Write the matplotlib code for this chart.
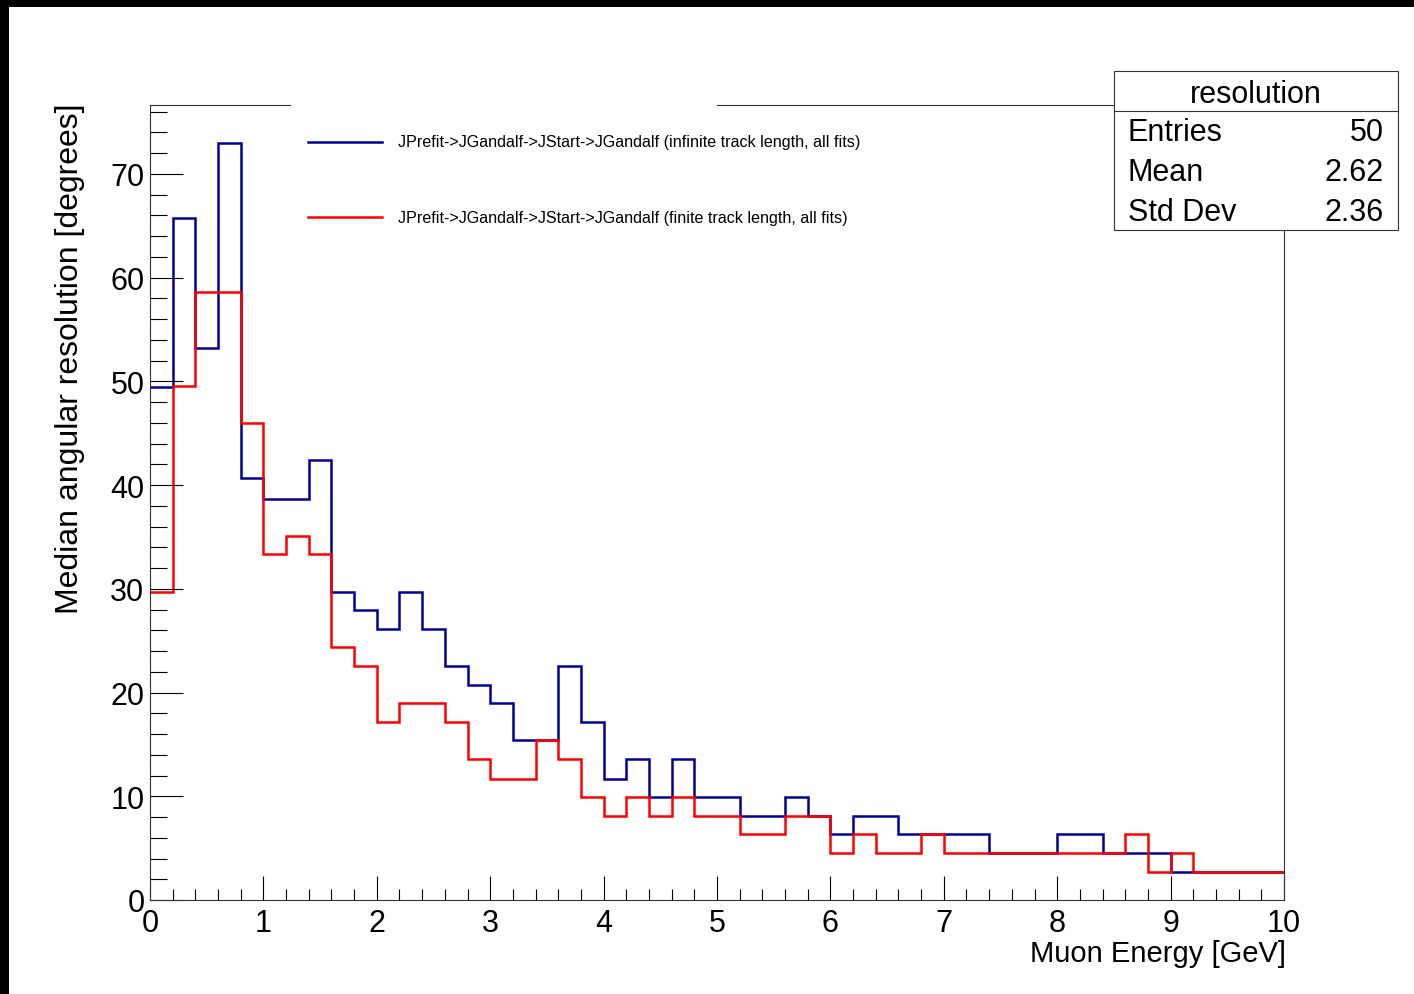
import numpy as np
import matplotlib
matplotlib.use("Agg")
import matplotlib.pyplot as plt
from matplotlib.patches import Rectangle
from matplotlib.lines import Line2D

plt.rcParams['font.family'] = ['Liberation Sans', 'DejaVu Sans']

# histogramme : 50 bins entre 0 et 10 GeV
n_bins = 50
e_min, e_max = 0.0, 10.0

# median angular resolution (degrees) per bin
infinite_res = [49.5, 65.8, 53.2, 73.0, 40.7, 38.7, 38.7, 42.4, 29.7, 28.0,
                26.1, 29.7, 26.1, 22.6, 20.7, 19.0, 15.4, 15.4, 22.6, 17.2,
                11.7, 13.6, 9.95, 13.6, 9.95, 9.95, 8.1, 8.1, 9.95, 8.1,
                6.35, 8.1, 8.1, 6.35, 6.35, 6.35, 6.35, 4.57, 4.57, 4.57,
                6.35, 6.35, 4.57, 4.57, 4.57, 2.73, 2.73, 2.73, 2.73, 2.73]
finite_res = [29.7, 49.6, 58.6, 58.6, 46.0, 33.4, 35.1, 33.4, 24.4, 22.6,
              17.2, 19.0, 19.0, 17.2, 13.6, 11.7, 11.7, 15.4, 13.6, 9.95,
              8.1, 9.95, 8.1, 9.95, 8.1, 8.1, 6.35, 6.35, 8.1, 8.1,
              4.57, 6.35, 4.57, 4.57, 6.35, 4.57, 4.57, 4.57, 4.57, 4.57,
              4.57, 4.57, 4.57, 6.35, 2.73, 4.57, 2.73, 2.73, 2.73, 2.73]

labels = ["JPrefit->JGandalf->JStart->JGandalf (infinite track length, all fits)",
          "JPrefit->JGandalf->JStart->JGandalf (finite track length, all fits)"]

stats_title = "resolution"
stats_names = ["Entries", "Mean", "Std Dev"]
stats_values = ["50", "2.62", "2.36"]

W, H = 1414, 995


def fx(px):
    return px / W


def fy(py):
    return 1 - py / H


fig = plt.figure(figsize=(W / 100, H / 100), dpi=100)
ax = fig.add_axes([fx(150), fy(901), fx(1284) - fx(150), fy(106) - fy(901)])

edges = np.linspace(e_min, e_max, n_bins + 1)
ax.stairs(infinite_res, edges, baseline=None, color='#000099', lw=1.8)
ax.stairs(finite_res, edges, baseline=None, color='#ff0000', lw=1.8)

ax.set_xlim(e_min, e_max)
ax.set_ylim(0, 1.05 * max(infinite_res))

ax.set_xticks(np.arange(0, 11, 1))
ax.set_xticks(np.arange(0, 10.01, 0.2), minor=True)
ax.set_yticks(np.arange(0, 71, 10))
ax.set_yticks(np.arange(0, 77, 2), minor=True)

for s in ax.spines.values():
    s.set_linewidth(0.8)
    s.set_color('#333333')

ax.tick_params(axis='y', which='major', direction='in', length=24, width=0.8,
               labelsize=22, pad=4)
ax.tick_params(axis='y', which='minor', direction='in', length=12, width=0.8)
ax.tick_params(axis='x', which='major', direction='in', length=17, width=0.8,
               labelsize=22, pad=6)
ax.tick_params(axis='x', which='minor', direction='in', length=8, width=0.8)

# titres des axes
fig.text(fx(1286), fy(940), "Muon Energy [GeV]", ha='right', va='top', fontsize=21)
fig.text(fx(70), fy(104), "Median angular resolution [degrees]", rotation=90,
         ha='center', va='top', fontsize=23)

# legende (boite blanche sans bord)
fig.add_artist(Rectangle((fx(291), fy(250)), fx(717) - fx(291), fy(95) - fy(250),
                         transform=fig.transFigure, facecolor='white',
                         edgecolor='none', zorder=3))
for ly, lab, col in zip([143, 218], labels, ['#000099', '#ff0000']):
    fig.add_artist(Line2D([fx(308), fx(382)], [fy(ly), fy(ly)],
                          transform=fig.transFigure, color=col, lw=1.8, zorder=4))
    fig.text(fx(398), fy(ly), lab, ha='left', va='center', fontsize=11.6, zorder=4)

# boite de statistiques
fig.add_artist(Rectangle((fx(1114), fy(231)), fx(1398) - fx(1114), fy(72) - fy(231),
                         transform=fig.transFigure, facecolor='white',
                         edgecolor='#333333', lw=0.8, zorder=3))
fig.add_artist(Line2D([fx(1114), fx(1398)], [fy(112), fy(112)],
                      transform=fig.transFigure, color='#333333', lw=0.8, zorder=4))
fig.text(fx(1256), fy(95), stats_title, ha='center', va='center', fontsize=22, zorder=4)
for i, (nm, val) in enumerate(zip(stats_names, stats_values)):
    yy = 133 + 40 * i
    fig.text(fx(1128), fy(yy), nm, ha='left', va='center', fontsize=22, zorder=4)
    fig.text(fx(1384), fy(yy), val, ha='right', va='center', fontsize=22, zorder=4)

# bord noir en haut et a gauche
fig.add_artist(Rectangle((0, fy(8)), 1, fy(0) - fy(8), transform=fig.transFigure,
                         facecolor='black', edgecolor='none', zorder=5))
fig.add_artist(Rectangle((0, 0), fx(9), 1, transform=fig.transFigure,
                         facecolor='black', edgecolor='none', zorder=5))

fig.savefig("out.png", dpi=100)
